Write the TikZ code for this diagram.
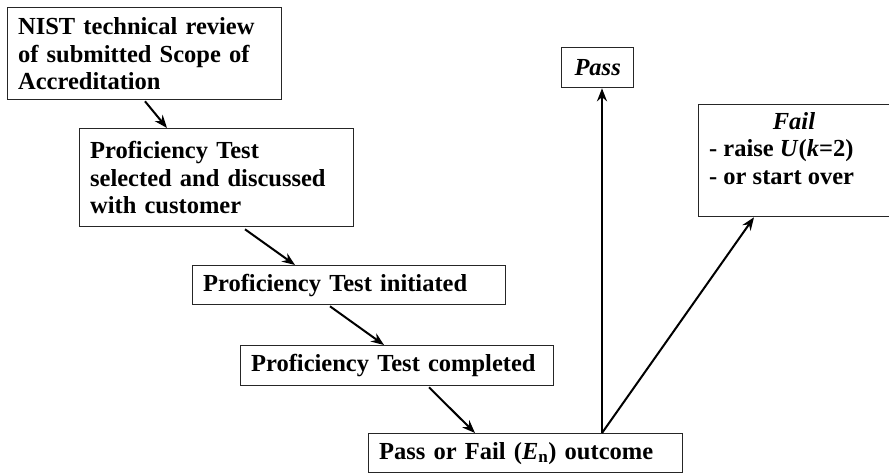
\documentclass[tikz,border=0pt]{standalone}
\usepackage{fontspec}
\setmainfont{Liberation Serif}
\usetikzlibrary{arrows.meta,calc}
\tikzset{
  box/.style={draw=black!85, line width=1.3pt, inner sep=0pt, anchor=north west,
    font=\fontsize{24.5}{27.5}\selectfont\bfseries, align=left},
  arr/.style={draw=black, line width=2pt, -{Stealth[length=13pt,width=10pt]}},
  txt/.style={inner sep=0pt, font=\fontsize{24.5}{27.5}\selectfont\bfseries}
}
\begin{document}
\begin{tikzpicture}[x=1pt,y=-1pt]
\useasboundingbox (0,0) rectangle (889,473);
\node[box, minimum width=274pt, minimum height=92pt, text width=253pt] (b1) at (7,7)
  {NIST technical review\\of submitted Scope of\\Accreditation};
\node[box, minimum width=274pt, minimum height=98pt, text width=253pt] (b2) at (79,128)
  {Proficiency Test\\selected and discussed\\with customer};
\node[box, minimum width=313pt, minimum height=39pt, text width=292pt] (b3) at (192,265)
  {Proficiency Test initiated};
\node[box, minimum width=313pt, minimum height=40pt, text width=292pt] (b4) at (240,345)
  {Proficiency Test completed};
\node[box, minimum width=314pt, minimum height=39pt, text width=293pt] (b5) at (368,433)
  {Pass or Fail (\textit{E}\textsubscript{n}) outcome};
\node[box, minimum width=72pt, minimum height=40pt, align=center] (pass) at (561,47)
  {\textit{Pass}};
\node[box, minimum width=193pt, minimum height=112pt] (fail) at (698,104) {};
\node[txt, anchor=base] (failt) at (794,130) {\textit{Fail}};
\node[txt, anchor=base west] (fail1) at (709,157) {- raise \textit{U}(\textit{k}=2)};
\node[txt, anchor=base west] (fail2) at (709,185) {- or start over};

\draw[arr] ($(b1.south west)+(138,1)$) -- ($(b2.north west)+(88,0)$);
\draw[arr] ($(b2.south west)+(166,2)$) -- ($(b3.north west)+(103,0)$);
\draw[arr] ($(b3.south west)+(138,1)$) -- ($(b4.north west)+(144,0)$);
\draw[arr] ($(b4.south west)+(189,1)$) -- ($(b5.north west)+(107,0)$);
\draw[arr, line width=2.5pt] ($(b5.north west)+(234,0)$) -- ($(pass.south west)+(41,0)$);
\draw[arr] ($(b5.north west)+(234,0)$) -- ($(fail.south west)+(56,0)$);
\end{tikzpicture}
\end{document}
